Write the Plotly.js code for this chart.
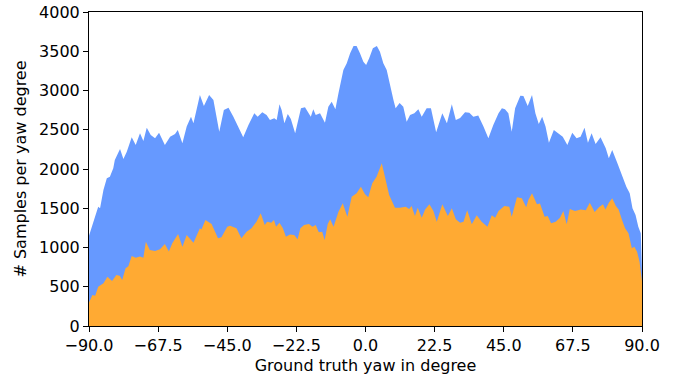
<!DOCTYPE html>
<html>
<head>
<meta charset="utf-8">
<script src="https://cdn.plot.ly/plotly-3.0.1.min.js"></script>
<style>html,body{margin:0;padding:0;background:#fff;}#chart{width:678px;height:382px;}</style>
</head>
<body>
<div id="chart"></div>
<script>
// Total samples per yaw degree (blue)
const allYaw = [-90,-89.7,-88.6,-87.0,-86.4,-85.3,-84.2,-83.2,-82.1,-81.6,-79.9,-78.8,-77.7,-76.1,-74.8,-73.4,-72.3,-71.2,-69.9,-68.5,-67.2,-65.3,-63.6,-62.0,-61.1,-59.6,-58.2,-56.8,-56.0,-53.9,-52.6,-50.9,-49.5,-47.6,-46.1,-44.6,-43.0,-41.4,-39.8,-38.1,-36.2,-35.1,-33.6,-32.2,-31.1,-29.7,-28.9,-28.0,-27.3,-26.4,-25.3,-24.3,-22.9,-21.0,-19.7,-17.8,-17.0,-16.2,-14.8,-13.2,-12.1,-11.0,-9.8,-8.8,-8.3,-7.2,-6.1,-5.0,-3.9,-2.9,-1.8,-0.7,0.2,1.2,2.4,3.7,4.7,5.8,6.9,8.0,9.1,9.8,11.1,12.3,13.4,14.5,15.9,17.2,18.3,19.9,21.3,23.0,25.0,26.5,28.1,29.4,30.8,32.4,33.8,35.1,36.7,38.4,40.0,41.6,43.3,44.4,45.4,46.5,47.6,48.7,50.4,51.4,52.8,54.2,55.3,56.4,57.5,58.6,59.7,61.3,62.9,64.2,65.7,67.3,68.7,70.0,71.3,72.4,73.6,74.9,76.5,78.2,79.2,80.3,82.0,83.6,84.9,86.0,86.9,87.9,88.8,89.6,90.0];
const allCount = [1150,1185,1308,1520,1500,1733,1881,1900,2009,2115,2255,2128,2221,2404,2306,2455,2357,2527,2433,2391,2463,2306,2412,2446,2497,2328,2540,2667,2582,2943,2803,2943,2879,2476,2752,2781,2667,2540,2404,2561,2710,2667,2722,2689,2624,2646,2624,2824,2752,2582,2701,2637,2455,2773,2786,2667,2760,2689,2710,2590,2794,2858,2760,2964,3049,3261,3346,3474,3567,3567,3474,3367,3325,3410,3537,3567,3495,3346,3261,3049,2879,2773,2840,2794,2603,2689,2710,2760,2667,2773,2773,2467,2710,2582,2824,2624,2650,2722,2718,2667,2680,2540,2391,2561,2710,2773,2760,2710,2476,2773,2934,2930,2803,2943,2710,2573,2667,2540,2335,2497,2455,2412,2306,2463,2391,2412,2527,2335,2455,2318,2404,2264,2136,2243,2073,1902,1775,1690,1499,1414,1265,1180,700];

// Subset samples per yaw degree (orange)
const subYaw = [-90,-89.7,-88.9,-88.0,-87.0,-85.3,-84.0,-82.5,-81.1,-80.0,-79.2,-78.1,-77.2,-76.1,-74.8,-73.4,-72.3,-71.5,-70.2,-68.5,-66.9,-65.3,-64.0,-62.9,-61.0,-59.6,-58.2,-56.0,-53.9,-53.4,-52.1,-50.1,-48.0,-46.9,-45.0,-44.1,-42.0,-40.4,-38.7,-37.1,-35.5,-34.1,-32.8,-32.0,-30.7,-29.8,-29.1,-28.0,-26.9,-25.9,-24.6,-23.2,-22.1,-21.2,-20.0,-18.4,-17.3,-16.2,-15.2,-14.1,-13.3,-12.3,-11.5,-10.4,-8.8,-7.4,-5.9,-4.5,-2.9,-1.5,-0.2,0.9,2.2,3.6,5.3,6.4,7.7,9.6,11.2,13.1,14.2,15.0,16.1,17.0,18.3,19.4,20.8,22.1,23.2,25.0,26.8,28.1,29.4,30.8,31.9,33.1,34.6,36.2,37.8,39.7,41.1,42.2,43.3,45.2,46.8,47.6,49.3,50.9,52.3,53.0,54.2,55.8,56.8,58.3,59.3,60.4,61.9,63.3,64.4,65.5,66.5,68.2,70.1,71.7,73.0,74.6,76.0,77.3,78.1,79.2,80.3,81.5,82.4,83.5,84.5,85.6,86.7,87.5,88.4,89.2,90.0];
const subCount = [300,330,395,385,501,544,628,573,650,640,586,735,760,892,870,884,870,1074,968,955,977,1045,950,1053,1172,1010,1160,1062,1245,1230,1350,1300,1117,1130,1265,1278,1245,1117,1202,1245,1329,1436,1287,1329,1316,1350,1265,1316,1245,1138,1167,1160,1104,1245,1287,1300,1265,1287,1193,1202,1096,1300,1359,1265,1456,1563,1393,1647,1690,1775,1680,1640,1818,1902,2073,1890,1669,1507,1507,1520,1490,1528,1401,1507,1380,1485,1550,1465,1329,1550,1401,1499,1359,1316,1329,1474,1295,1410,1329,1265,1410,1380,1465,1528,1520,1393,1639,1626,1512,1605,1690,1550,1560,1393,1401,1308,1329,1380,1465,1295,1490,1465,1485,1474,1571,1452,1512,1550,1485,1571,1626,1528,1485,1350,1245,1181,990,1010,947,819,570];

const xTickVals = [-90,-67.5,-45,-22.5,0,22.5,45,67.5,90];
const xTickText = ["\u221290.0","\u221267.5","\u221245.0","\u221222.5","0.0","22.5","45.0","67.5","90.0"];
const yTickVals = [0,500,1000,1500,2000,2500,3000,3500,4000];

const traces = [
  {x: allYaw, y: allCount, type: 'scatter', mode: 'lines', fill: 'tozeroy',
   line: {width: 0, color: '#6699ff'}, fillcolor: '#6699ff', hoverinfo: 'skip'},
  {x: subYaw, y: subCount, type: 'scatter', mode: 'lines', fill: 'tozeroy',
   line: {width: 0, color: '#ffaa33'}, fillcolor: '#ffaa33', hoverinfo: 'skip'}
];

const axisCommon = {
  showline: true, linecolor: '#000', linewidth: 1, mirror: true,
  ticks: 'outside', ticklen: 5, tickwidth: 1, tickcolor: '#000',
  showgrid: false, zeroline: false, automargin: false,
  tickfont: {family: 'DejaVu Sans', size: 16, color: '#000'}
};

const layout = {
  width: 678, height: 382,
  margin: {l: 89, r: 36, t: 12, b: 56},
  paper_bgcolor: '#fff', plot_bgcolor: '#fff',
  showlegend: false,
  font: {family: 'DejaVu Sans', color: '#000'},
  xaxis: Object.assign({}, axisCommon, {
    range: [-90, 90], tickmode: 'array', tickvals: xTickVals, ticktext: xTickText,
    title: {text: 'Ground truth yaw in degree', font: {family: 'DejaVu Sans', size: 16, color: '#000'}, standoff: 5}
  }),
  yaxis: Object.assign({}, axisCommon, {
    range: [0, 4000], tickmode: 'array', tickvals: yTickVals,
    title: {text: '# Samples per yaw degree', font: {family: 'DejaVu Sans', size: 16, color: '#000'}, standoff: 8}
  })
};

Plotly.newPlot('chart', traces, layout, {staticPlot: true, displayModeBar: false});
</script>
</body>
</html>
